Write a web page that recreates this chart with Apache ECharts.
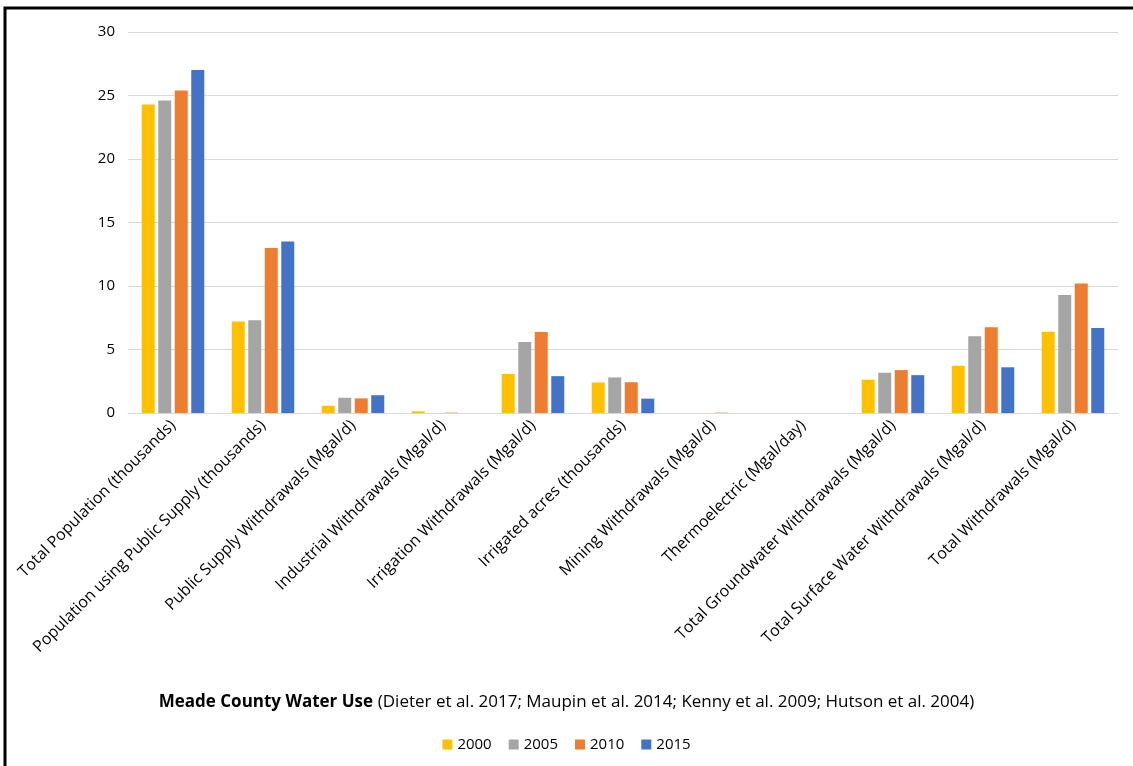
<!DOCTYPE html>
<html>
<head>
<meta charset="utf-8">
<script src="https://cdn.jsdelivr.net/npm/echarts@6/dist/echarts.min.js"></script>
<style>
  html, body { margin: 0; padding: 0; background: #fff; }
  #chart { width: 1133px; height: 766px; }
</style>
</head>
<body>
<div id="chart"></div>
<script>
// categories along the x axis
var categories = [
	'Total Population (thousands)',
	'Population using Public Supply (thousands)',
	'Public Supply Withdrawals (Mgal/d)',
	'Industrial Withdrawals (Mgal/d)',
	'Irrigation Withdrawals (Mgal/d)',
	'Irrigated acres (thousands)',
	'Mining Withdrawals (Mgal/d)',
	'Thermoelectric (Mgal/day)',
	'Total Groundwater Withdrawals (Mgal/d)',
	'Total Surface Water Withdrawals (Mgal/d)',
	'Total Withdrawals (Mgal/d)'
];
var years = ['2000', '2005', '2010', '2015'];

// values
var y2000 = [24.3, 7.2, 0.57, 0.13, 3.07, 2.4, 0, 0, 2.62, 3.72, 6.4];
var y2005 = [24.6, 7.3, 1.2, 0, 5.6, 2.8, 0, 0, 3.17, 6.04, 9.3];
var y2010 = [25.4, 13.0, 1.15, 0.03, 6.38, 2.42, 0.03, 0, 3.38, 6.75, 10.2];
var y2015 = [27.0, 13.5, 1.4, 0, 2.9, 1.13, 0, 0, 2.98, 3.6, 6.7];

var yTicks = [0, 5, 10, 15, 20, 25, 30];

var colors = ['#FFC000', '#A5A5A5', '#ED7D31', '#4472C4'];
var seriesData = [y2000, y2005, y2010, y2015];
var fontName = '"Open Sans", "Noto Sans", sans-serif';

var series = [];
for (var i = 0; i < years.length; i++) {
	series.push({
		name: years[i],
		type: 'bar',
		barWidth: 13,
		barGap: '27%',
		itemStyle: { color: colors[i] },
		data: seriesData[i]
	});
}

var myChart = echarts.init(document.getElementById('chart'));
var option = {
	animation: false,
	textStyle: { fontFamily: fontName },
	title: {
		text: '{b|Meade County Water Use} {n|(Dieter et al. 2017; Maupin et al. 2014; Kenny et al. 2009; Hutson et al. 2004)}',
		left: 'center',
		top: 688,
		textStyle: {
			fontWeight: 'normal',
			rich: {
				b: { fontSize: 17, fontWeight: 'bold', color: '#000', fontFamily: fontName },
				n: { fontSize: 17, fontWeight: 'normal', color: '#000', fontFamily: fontName }
			}
		}
	},
	legend: {
		data: years,
		left: 'center',
		top: 732,
		icon: 'rect',
		itemWidth: 10,
		itemHeight: 10,
		itemGap: 17,
		textStyle: { fontSize: 15, color: '#000', fontFamily: fontName }
	},
	grid: {
		left: 128,
		right: 15,
		top: 32,
		bottom: 353,
		containLabel: false
	},
	xAxis: {
		type: 'category',
		data: categories,
		axisTick: { show: false },
		axisLine: { lineStyle: { color: '#d9d9d9', width: 1 } },
		axisLabel: {
			rotate: 45,
			interval: 0,
			margin: 10,
			fontSize: 16,
			color: '#000',
			fontFamily: fontName
		}
	},
	yAxis: {
		type: 'value',
		min: yTicks[0],
		max: yTicks[yTicks.length - 1],
		interval: 5,
		axisLine: { show: false },
		axisTick: { show: false },
		splitLine: { lineStyle: { color: '#d9d9d9', width: 1 } },
		axisLabel: { fontSize: 15, color: '#000', margin: 13, fontFamily: fontName }
	},
	graphic: [{
		type: 'polyline',
		shape: { points: [[5, 766], [5, 8], [1133, 8]] },
		style: { stroke: '#000', lineWidth: 3, fill: null }
	}],
	series: series
};
myChart.setOption(option, true);
</script>
</body>
</html>
